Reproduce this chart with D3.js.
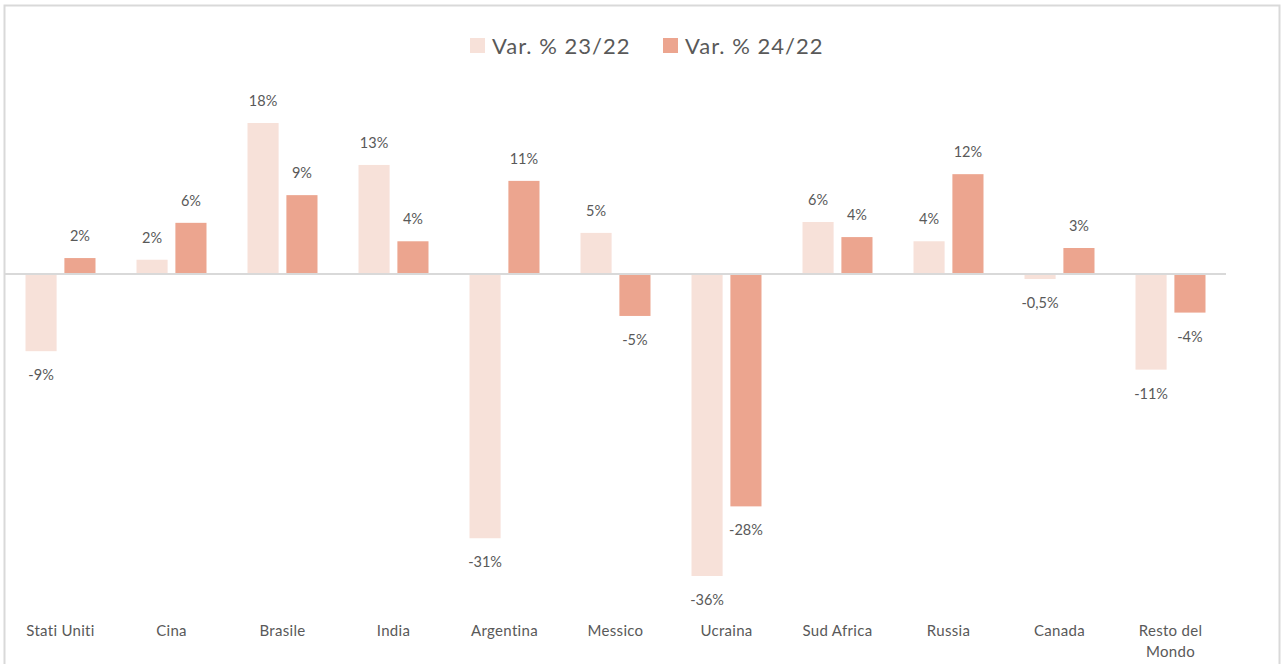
<!DOCTYPE html>
<html><head><meta charset="utf-8">
<script src="https://cdn.jsdelivr.net/npm/d3@7"></script>
<style>body{margin:0;background:#fff}svg{display:block}text{font-family:Lato,"Open Sans",sans-serif;fill:#595959}</style>
</head><body><svg id="c" width="1285" height="664"></svg>
<script>
const categories = ["Stati Uniti","Cina","Brasile","India","Argentina","Messico","Ucraina","Sud Africa","Russia","Canada","Resto del Mondo"];
const seriesNames = ["Var. % 23/22","Var. % 24/22"];
const var2322 = [-9.2,1.7,18.0,13.0,-31.5,4.9,-36.0,6.2,3.9,-0.6,-11.4];
const var2422 = [1.9,6.1,9.4,3.9,11.1,-5.0,-27.7,4.4,11.9,3.1,-4.6];
const labels2322 = ["-9%","2%","18%","13%","-31%","5%","-36%","6%","4%","-0,5%","-11%"];
const labels2422 = ["2%","6%","9%","4%","11%","-5%","-28%","4%","12%","3%","-4%"];
const colors = ["#F7E1D9","#ECA58F"];

const svg = d3.select("#c");
svg.append("rect").attr("x",4.5).attr("y",5.5).attr("width",1275).attr("height",670)
  .attr("fill","none").attr("stroke","#d9d9d9").attr("stroke-width",2);

const x = d3.scaleBand().domain(categories).range([5,1226]);
const x1 = d3.scaleBand().domain([0,1]).range([x.bandwidth()/2-35, x.bandwidth()/2+35]).paddingInner(0.2);
const y = d3.scaleLinear().domain([-36,18]).range([576,123]);

const series = [var2322, var2422];
const lbls = [labels2322, labels2422];
series.forEach((vals,si)=>{
  const g = svg.append("g");
  g.selectAll("rect").data(vals).join("rect")
    .attr("x",(d,i)=>x(categories[i])+x1(si))
    .attr("width",x1.bandwidth())
    .attr("y",d=>y(Math.max(0,d)))
    .attr("height",d=>Math.abs(y(d)-y(0)))
    .attr("fill",colors[si]);
  g.selectAll("text").data(vals).join("text")
    .attr("x",(d,i)=>x(categories[i])+x1(si)+x1.bandwidth()/2)
    .attr("y",d=>d>=0? y(d)-17 : y(d)+29)
    .attr("text-anchor","middle").attr("font-size",14.5)
    .text((d,i)=>lbls[si][i]);
});

svg.append("line").attr("x1",5).attr("x2",1226).attr("y1",y(0)).attr("y2",y(0))
  .attr("stroke","#d9d9d9").attr("stroke-width",2);

// category axis labels
const xl = svg.append("g");
categories.forEach(c=>{
  const cx = x(c)+x.bandwidth()/2;
  const words = c==="Resto del Mondo" ? ["Resto del","Mondo"] : [c];
  words.forEach((w,k)=>{
    xl.append("text").attr("x",cx).attr("y",636+k*21).attr("text-anchor","middle")
      .attr("font-size",15).attr("letter-spacing",0.3).text(w);
  });
});

// legend
const leg = svg.append("g");
const legX = [470,663];
seriesNames.forEach((n,i)=>{
  leg.append("rect").attr("x",legX[i]).attr("y",38).attr("width",15).attr("height",15).attr("fill",colors[i]);
  leg.append("text").attr("x",legX[i]+22).attr("y",54).attr("font-size",22).attr("letter-spacing",1).text(n);
});
</script></body></html>
